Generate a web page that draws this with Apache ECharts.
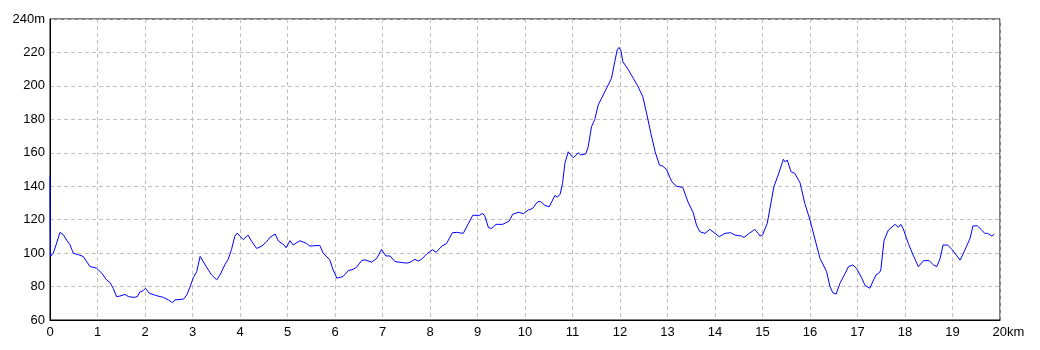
<!DOCTYPE html>
<html><head><meta charset="utf-8">
<script src="https://cdn.jsdelivr.net/npm/echarts@6/dist/echarts.min.js"></script>
<style>html,body{margin:0;padding:0;background:#fff}#c{width:1040px;height:350px}</style>
</head><body><div id="c"></div>
<script>
const distKm = [0,0.01,0.07,0.14,0.21,0.28,0.35,0.42,0.49,0.6,0.7,0.84,0.98,1.09,1.19,1.26,1.33,1.4,1.47,1.58,1.65,1.77,1.84,1.89,1.96,2.01,2.09,2.25,2.39,2.49,2.58,2.63,2.81,2.88,2.95,3.02,3.09,3.16,3.2,3.3,3.4,3.51,3.58,3.68,3.75,3.82,3.89,3.94,4.07,4.17,4.25,4.35,4.46,4.56,4.63,4.74,4.81,4.93,4.97,5.05,5.12,5.26,5.4,5.47,5.68,5.75,5.89,5.96,6.04,6.08,6.17,6.28,6.38,6.45,6.56,6.63,6.77,6.88,6.98,7.07,7.16,7.26,7.37,7.51,7.58,7.68,7.76,7.83,7.93,8.05,8.13,8.25,8.35,8.47,8.56,8.7,8.81,8.9,9.04,9.11,9.16,9.23,9.3,9.39,9.53,9.67,9.74,9.86,9.97,10.07,10.16,10.27,10.33,10.42,10.51,10.63,10.68,10.74,10.79,10.84,10.91,10.96,11.02,11.12,11.17,11.28,11.33,11.4,11.47,11.54,11.68,11.82,11.89,11.94,11.98,12.02,12.06,12.17,12.28,12.38,12.48,12.56,12.65,12.74,12.83,12.9,12.98,13.09,13.19,13.32,13.44,13.54,13.61,13.68,13.79,13.89,14,14.09,14.21,14.33,14.42,14.56,14.61,14.72,14.84,14.88,14.95,15,15.1,15.17,15.24,15.33,15.44,15.48,15.52,15.6,15.68,15.79,15.89,16,16.11,16.21,16.35,16.42,16.48,16.55,16.63,16.74,16.81,16.9,16.98,17.09,17.16,17.26,17.34,17.39,17.46,17.49,17.56,17.65,17.79,17.86,17.91,17.96,18.07,18.17,18.28,18.39,18.51,18.6,18.67,18.74,18.8,18.9,18.99,19.16,19.26,19.37,19.43,19.52,19.6,19.68,19.74,19.83,19.88];
const elevM = [146,98,100,106,112.4,111,107.8,105,100,99,98,92,91,88,84,82.5,79,74,74.3,75.3,74,73.5,74,76.7,77.5,79,76,74.5,73.5,72,70.3,72,72.5,75,80,85.5,89,98,98.3,91.5,87,84,87,93,96.3,102,110,112,108,110.8,106.8,102.8,104.2,106.8,109.4,111.4,107.2,104.8,103.2,107.4,104.8,107.4,105.8,104.2,104.6,100,96,90,85,84,86,89.5,90.3,91.5,95.5,96,94.6,96.9,102.2,98.3,98.3,95,94.5,94,94.5,96.3,95.2,96.5,99.5,102,100.5,104.2,105.8,112.2,112.4,111.8,117.8,122.6,122.6,123.8,121.8,115.2,114.8,117.2,117.2,119.2,123.2,124.4,123.6,125.8,126.7,130.8,130.8,128.5,127.7,134.5,133.4,135.3,141.7,153.7,160.6,158.7,157,160,158.7,159.3,163.6,175.6,180,188.5,196.5,204.5,214.5,221.5,223,221,214.5,209.9,204.5,199.5,193.5,183.6,171.6,160.6,152.7,152,150,142.7,140,139.3,130,124.3,116.8,112.8,111.8,114.2,111.8,109.8,111.8,112.2,110.8,110.2,109.4,111.8,114.2,114,110.2,110.8,117.8,128.8,139.7,146.7,156.1,154.5,155.7,148.7,147.7,142.1,129.8,119.8,107.8,96.9,88.9,80,76.3,75.5,81.9,87.9,91.9,92.9,90.9,85,80.6,79,84,86.9,88.3,89.9,107.8,113.8,117.2,115.4,117.2,114.8,105.8,98.9,91.9,95.5,95.5,92.9,91.9,96.9,104.8,104.8,102.2,95.8,101.8,108.8,116.2,116.4,114.2,111.8,111.8,110.2,111.4];
const xUnit = 'km';
const yUnit = 'm';

const chart = echarts.init(document.getElementById('c'), null, {renderer: 'canvas'});
const font = '"Liberation Sans", Arial, sans-serif';
chart.setOption({
  animation: false,
  backgroundColor: '#fff',
  grid: {left: 50, right: 40, top: 19, bottom: 30, show: true, borderColor: '#000', borderWidth: 1, backgroundColor: 'transparent'},
  xAxis: {
    type: 'value', min: 0, max: 20, interval: 1,
    axisLine: {show: true, onZero: false, lineStyle: {color: '#000', width: 1}},
    axisTick: {show: false},
    splitLine: {show: true, lineStyle: {color: '#c0c0c0', type: [4, 3], width: 1}},
    axisLabel: {
      color: '#000', fontFamily: font, fontSize: 13, margin: 6,
      formatter: v => v === 20 ? '{sp|}' + v + xUnit : String(v),
      rich: {sp: {width: 17}}
    }
  },
  yAxis: {
    type: 'value', min: 60, max: 240, interval: 20,
    axisLine: {show: true, onZero: false, lineStyle: {color: '#000', width: 1}},
    axisTick: {show: false},
    splitLine: {show: true, lineStyle: {color: '#c0c0c0', type: [4, 3], width: 1}},
    axisLabel: {
      color: '#000', fontFamily: font, fontSize: 13, margin: 5,
      formatter: v => v === 240 ? v + yUnit : String(v)
    }
  },
  series: [{
    type: 'line',
    data: distKm.map((d, i) => [d, elevM[i]]),
    showSymbol: false,
    symbol: 'none',
    lineStyle: {color: '#0000ff', width: 1},
    z: 1
  }]
});
</script>
</body></html>
